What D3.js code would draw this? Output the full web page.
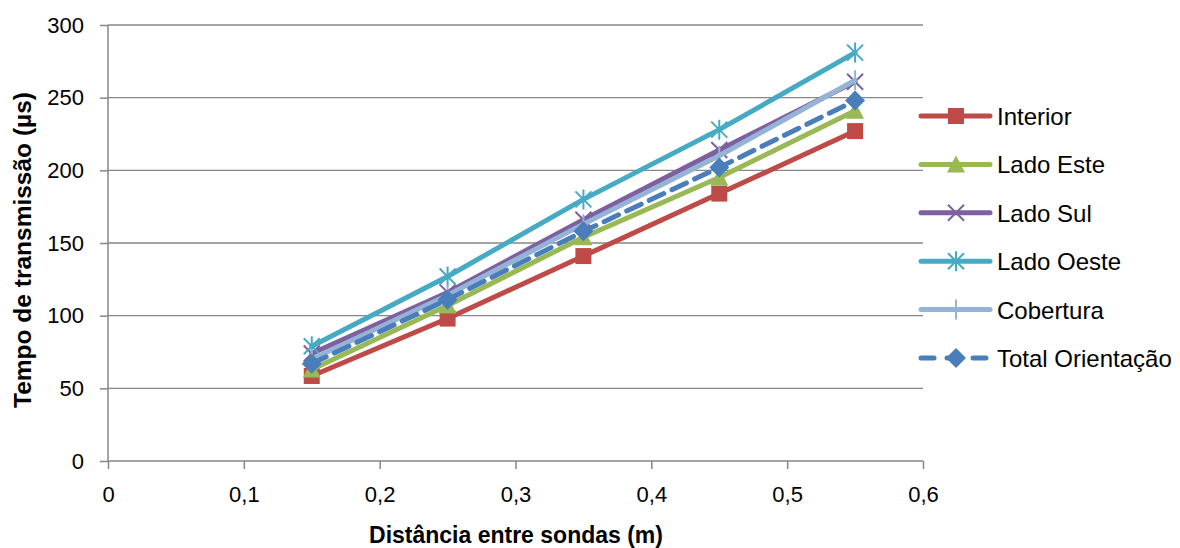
<!DOCTYPE html>
<html>
<head>
<meta charset="utf-8">
<script src="https://cdn.jsdelivr.net/npm/d3@7"></script>
<style>
  body { margin: 0; background: #fff; }
  text { font-family: "Liberation Sans", "Open Sans", sans-serif; fill: #000; }
</style>
</head>
<body>
<script>
// data
var distances = [0.15, 0.25, 0.35, 0.45, 0.55];
var interior = [58.5, 98, 141, 184, 227];
var ladoEste = [63, 107, 154, 195, 241];
var ladoSul = [74, 116, 166, 214, 261];
var ladoOeste = [79, 127, 180, 228, 281];
var cobertura = [70, 114, 163, 210, 262];
var totalOrientacao = [67, 111, 158, 202, 248];
var xTicks = [0, 0.1, 0.2, 0.3, 0.4, 0.5, 0.6];
var yTicks = [0, 50, 100, 150, 200, 250, 300];

var series = [
  { name: "Interior", values: interior, color: "#BE4B48", marker: "square" },
  { name: "Lado Este", values: ladoEste, color: "#98B954", marker: "triangle" },
  { name: "Lado Sul", values: ladoSul, color: "#7D60A0", marker: "x" },
  { name: "Lado Oeste", values: ladoOeste, color: "#46AAC5", marker: "star" },
  { name: "Cobertura", values: cobertura, color: "#95B3D7", marker: "plus" },
  { name: "Total Orientação", values: totalOrientacao, color: "#4A7EBB", marker: "diamond", dash: "16,9" }
];

var width = 1180, height = 548;
var plotLeft = 108, plotRight = 923, plotTop = 25, plotBottom = 461;

var svg = d3.select("body").append("svg")
  .attr("width", width)
  .attr("height", height);

var x = d3.scaleLinear().domain([0, 0.6]).range([plotLeft, plotRight]);
var y = d3.scaleLinear().domain([0, 300]).range([plotBottom, plotTop]);
var fmt = function(d) { return String(d).replace(".", ","); };

// gridlines
svg.append("g")
  .selectAll("line")
  .data(yTicks.filter(function(d) { return d > 0; }))
  .enter().append("line")
    .attr("x1", plotLeft).attr("x2", plotRight)
    .attr("y1", function(d) { return y(d); })
    .attr("y2", function(d) { return y(d); })
    .attr("stroke", "#878787").attr("stroke-width", 1.3);

// axes
var yAxis = svg.append("g")
  .attr("transform", "translate(" + plotLeft + ",0)")
  .call(d3.axisLeft(y).tickValues(yTicks).tickSize(8).tickPadding(16));
var xAxis = svg.append("g")
  .attr("transform", "translate(0," + plotBottom + ")")
  .call(d3.axisBottom(x).tickValues(xTicks).tickFormat(fmt).tickSize(8).tickPadding(17));

[xAxis, yAxis].forEach(function(a) {
  a.select(".domain").attr("stroke", "#878787").attr("stroke-width", 1.5);
  a.selectAll(".tick line").attr("stroke", "#878787").attr("stroke-width", 1.5);
  a.selectAll(".tick text").style("font-size", "22px").attr("fill", "#000");
});
yAxis.select(".domain").attr("d", "M0," + plotTop + "V" + plotBottom);
xAxis.select(".domain").attr("d", "M" + plotLeft + ",0H" + plotRight);

// axis titles
svg.append("text")
  .attr("x", 516).attr("y", 543)
  .attr("text-anchor", "middle")
  .style("font-size", "23px").style("font-weight", "bold")
  .text("Distância entre sondas (m)");
svg.append("text")
  .attr("transform", "translate(31,250) rotate(-90)")
  .attr("text-anchor", "middle")
  .style("font-size", "24.5px").style("font-weight", "bold")
  .text("Tempo de transmissão (µs)");

function drawMarker(g, type, color) {
  if (type == "square") {
    g.append("rect").attr("x", -8).attr("y", -8).attr("width", 16).attr("height", 16).attr("fill", color);
  } else if (type == "triangle") {
    g.append("path").attr("d", "M0,-9L9,8L-9,8Z").attr("fill", color);
  } else if (type == "diamond") {
    g.append("path").attr("d", "M0,-10L10,0L0,10L-10,0Z").attr("fill", color);
  } else if (type == "x") {
    g.append("path").attr("d", "M-8,-8L8,8M-8,8L8,-8").attr("stroke", color).attr("stroke-width", 2).attr("fill", "none");
  } else if (type == "star") {
    g.append("path").attr("d", "M-8,-8L8,8M-8,8L8,-8M0,-10V10").attr("stroke", color).attr("stroke-width", 2).attr("fill", "none");
  } else if (type == "plus") {
    g.append("path").attr("d", "M0,-10V10").attr("stroke", color).attr("stroke-width", 2).attr("fill", "none");
  }
}

var line = d3.line()
  .x(function(d) { return x(d[0]); })
  .y(function(d) { return y(d[1]); });

series.forEach(function(s) {
  var pts = distances.map(function(d, i) { return [d, s.values[i]]; });
  var g = svg.append("g");
  g.append("path")
    .datum(pts)
    .attr("d", line)
    .attr("fill", "none")
    .attr("stroke", s.color)
    .attr("stroke-width", 5)
    .attr("stroke-linecap", "round")
    .attr("stroke-dasharray", s.dash || null);
  pts.forEach(function(p) {
    var m = g.append("g").attr("transform", "translate(" + x(p[0]) + "," + y(p[1]) + ")");
    drawMarker(m, s.marker, s.color);
  });
});

// legend
var legend = svg.append("g");
series.forEach(function(s, i) {
  var ly = 116 + i * 48.4;
  var row = legend.append("g").attr("transform", "translate(0," + ly + ")");
  row.append("line")
    .attr("x1", 921).attr("x2", 990).attr("y1", 0).attr("y2", 0)
    .attr("stroke", s.color).attr("stroke-width", 5)
    .attr("stroke-linecap", "round")
    .attr("stroke-dasharray", s.dash ? "13,13" : null);
  var m = row.append("g").attr("transform", "translate(956,0)");
  drawMarker(m, s.marker, s.color);
  row.append("text")
    .attr("x", 997).attr("y", 9)
    .style("font-size", "24px")
    .text(s.name);
});
</script>
</body>
</html>
